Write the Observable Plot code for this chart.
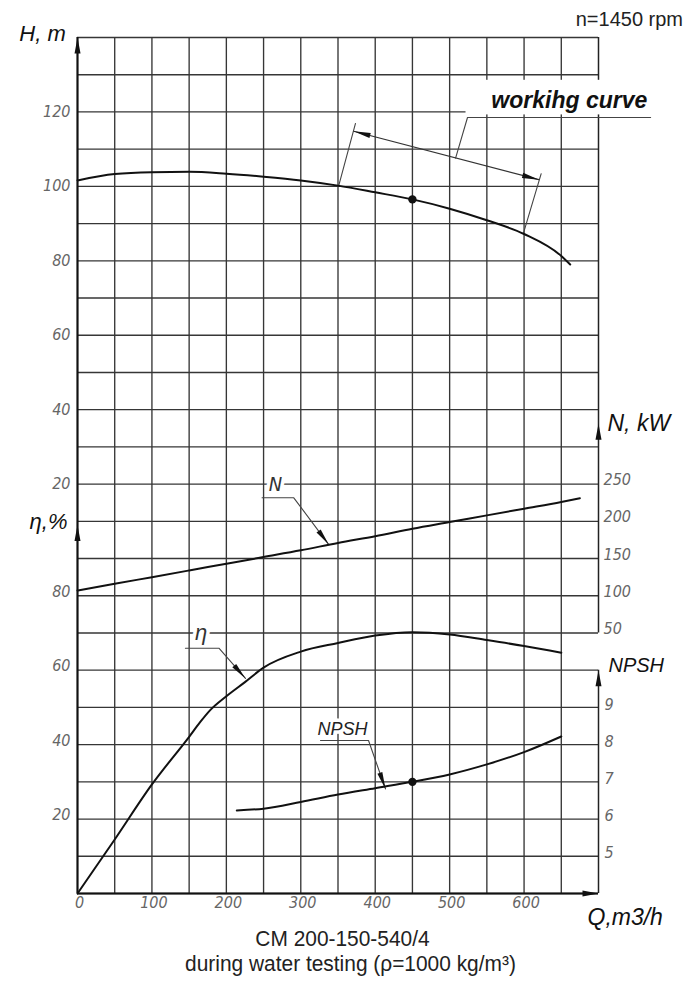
<!DOCTYPE html>
<html><head><meta charset="utf-8">
<script src="https://cdn.jsdelivr.net/npm/d3@7"></script>
<script src="https://cdn.jsdelivr.net/npm/@observablehq/plot@0.6"></script>
<style>
body{margin:0;background:#fff;font-family:"Liberation Sans",Arial,sans-serif;}
#wrap{position:relative;width:691px;height:1000px;background:#fff;}
#chart svg{display:block;}
#rpm{position:absolute;right:8px;top:9px;font-size:20px;line-height:20px;color:#222;}
#cap{position:absolute;top:926px;left:0;width:691px;text-align:center;font-size:22px;line-height:25px;color:#222;}
#cap div{transform:scaleX(0.95);}
#cap .l1{margin-left:-6px;}
#cap .l2{margin-left:10px;}
</style></head><body>
<div id="wrap"><div id="chart"></div><div id="rpm">n=1450 rpm</div>
<div id="cap"><div class="l1">CM 200-150-540/4</div><div class="l2">during water testing (ρ=1000 kg/m³)</div></div></div>
<script>
// ---- data ----
const flowH   = [0, 50, 100, 150, 200, 250, 300, 350, 400, 450, 500, 550, 600, 650, 662];
const headH   = [101.6, 103.3, 103.8, 103.9, 103.4, 102.6, 101.6, 100.2, 98.4, 96.5, 94.0, 90.9, 87.2, 81.3, 79.0];
const flowN   = [0, 50, 100, 150, 200, 250, 300, 350, 400, 450, 500, 550, 600, 650, 675];
const powerN  = [107, 116, 125, 134, 143, 152, 161, 171, 180, 190, 199, 208, 217, 226, 231];
const flowEta = [0, 50, 100, 150, 165, 178, 200, 225, 250, 300, 350, 400, 450, 500, 550, 600, 650];
const effEta  = [0, 14.5, 29.3, 42.1, 46.1, 49.2, 53.0, 56.8, 60.7, 65, 67.3, 69.3, 70.2, 69.6, 68.1, 66.5, 64.7];
const flowNpsh = [214, 250, 300, 350, 400, 450, 500, 550, 600, 650];
const npshVal  = [6.23, 6.28, 6.46, 6.66, 6.83, 7.0, 7.2, 7.47, 7.8, 8.22];
const dutyQ = 450, dutyH = 96.5, dutyNpsh = 7.0;

// tick labels
const qTicks = [0, 100, 200, 300, 400, 500, 600];
const hTicks = [20, 40, 60, 80, 100, 120];
const etaTicks = [20, 40, 60, 80];
const nTicks = [50, 100, 150, 200, 250];
const npshTicks = [5, 6, 7, 8, 9];
const gridQ = [0, 50, 100, 150, 200, 250, 300, 350, 400, 450, 500, 550, 600, 650];
const gridH = [-90, -80, -70, -60, -50, -40, -30, -20, -10, 0, 10, 20, 30, 40, 50, 60, 70, 80, 90, 100, 110, 120, 130, 140];

// annotations (in each curve's own units)
const workRange = [{q: 371, h: 114.8}, {q: 620, h: 101.8}];
const workExt = [[{q: 351, h: 100.2}, {q: 373.5, h: 116.9}], [{q: 599, h: 87.3}, {q: 623, h: 103.4}]];
const workLeader = [{q: 508, h: 107.6}, {q: 524, h: 118.5}, {q: 770, h: 118.5}];
const workLabel = {q: 556, h: 123, text: "workihg curve"};
const nLeader = [{q: 248, v: 231.6}, {q: 290.6, v: 231.6}, {q: 337.6, v: 168.8}];
const nLabel = {q: 266, v: 250, text: "N"};
const etaLeader = [{q: 145, v: 65.9}, {q: 190, v: 65.9}, {q: 225.7, v: 57.8}];
const etaLabel = {q: 166, v: 70, text: "η"};
const npshLeader = [{q: 326.5, v: 8.11}, {q: 391, v: 8.11}, {q: 413.8, v: 6.81}];
const npshLabel = {q: 356, v: 8.42, text: "NPSH"};

// ---- mapping of the secondary quantities onto the shared grid (H scale) ----
const yEta = v => v - 90;
const yN = v => v / 5 - 30;
const yNP = v => (v - 13) * 10;

const W = 691, HG = 930, ML = 77, MR = 93, MT = 37, MB = 37;
const XD = [0, 700], YD = [-90, 140];
const kx = (W - ML - MR) / (XD[1] - XD[0]);
const ky = (HG - MT - MB) / (YD[1] - YD[0]);
const angle = (a, b) => Math.atan2((b.x - a.x) * kx, (b.y - a.y) * ky) * 180 / Math.PI;

const H = flowH.map((q, i) => ({x: q, y: headH[i]}));
const N = flowN.map((q, i) => ({x: q, y: yN(powerN[i])}));
const E = flowEta.map((q, i) => ({x: q, y: yEta(effEta[i])}));
const P = flowNpsh.map((q, i) => ({x: q, y: yNP(npshVal[i])}));

const leaders = [
  ...workExt.map((seg, k) => seg.map(p => ({x: p.q, y: p.h, k: "ext" + k}))).flat(),
  ...workLeader.map(p => ({x: p.q, y: p.h, k: "wl"})),
  ...nLeader.map(p => ({x: p.q, y: yN(p.v), k: "n"})),
  ...etaLeader.map(p => ({x: p.q, y: yEta(p.v), k: "e"})),
  ...npshLeader.map(p => ({x: p.q, y: yNP(p.v), k: "p"}))
];
const dim = workRange.map(p => ({x: p.q, y: p.h}));
const tipOf = arr => {const a = arr[arr.length - 2], b = arr[arr.length - 1]; return {x: b.x, y: b.y, r: angle(a, b)};};
const leaderHeads = [
  tipOf(nLeader.map(p => ({x: p.q, y: yN(p.v)}))),
  tipOf(etaLeader.map(p => ({x: p.q, y: yEta(p.v)}))),
  tipOf(npshLeader.map(p => ({x: p.q, y: yNP(p.v)}))),
  {x: dim[0].x, y: dim[0].y, r: angle(dim[1], dim[0])},
  {x: dim[1].x, y: dim[1].y, r: angle(dim[0], dim[1])}
];
const axisHeads = [
  {x: 0, y: 140, r: 0},
  {x: 0, y: yEta(99), r: 0},
  {x: 700, y: yN(331), r: 0},
  {x: 700, y: yNP(10), r: 0},
  {x: 700, y: -90, r: 90}
];
const rightAxis = [{y1: yNP(4), y2: yNP(10)}, {y1: yN(50), y2: 140}];

const tickFont = "'DejaVu Sans Condensed','Liberation Sans Narrow','Liberation Sans',sans-serif";
const labFont = "'Liberation Sans',Arial,sans-serif";
const gridC = "#363636";
const tickOpts = {tickSize: 0, label: null, fontSize: 16, fontFamily: tickFont, fontWeight: 300, color: "#666"};

const chart = Plot.plot({
  width: W, height: HG, marginLeft: ML, marginRight: MR, marginTop: MT, marginBottom: MB,
  x: {domain: XD}, y: {domain: YD},
  style: {fontStyle: "italic", background: "#fff", overflow: "visible", fontFamily: labFont},
  marks: [
    Plot.ruleY(gridH, {stroke: gridC, strokeWidth: 1.35}),
    Plot.ruleX(gridQ.slice(1), {stroke: gridC, strokeWidth: 1.35}),
    Plot.ruleX(rightAxis, {x: 700, y1: "y1", y2: "y2", stroke: "#222", strokeWidth: 1.5}),
    Plot.ruleX([0], {stroke: "#111", strokeWidth: 2.2}),
    Plot.ruleY([-90], {stroke: "#111", strokeWidth: 2.2}),
    // label backgrounds
    Plot.rect([{x1: 522, x2: 705, y1: 119.2, y2: 128.5}], {x1: "x1", x2: "x2", y1: "y1", y2: "y2", fill: "#fff"}),
    Plot.text([workLabel], {x: "q", y: "h", text: "text", textAnchor: "start", fontSize: 23, fontWeight: "bold", fill: "#111"}),
    Plot.text([nLabel], {x: "q", y: d => yN(d.v), text: "text", fontSize: 20, fontFamily: tickFont, fontWeight: 300, fill: "#333", stroke: "#fff", strokeWidth: 7, paintOrder: "stroke"}),
    Plot.text([etaLabel], {x: "q", y: d => yEta(d.v), text: "text", fontSize: 22, fill: "#333", stroke: "#fff", strokeWidth: 7, paintOrder: "stroke"}),
    Plot.text([npshLabel], {x: "q", y: d => yNP(d.v), text: "text", fontSize: 18, fill: "#222", stroke: "#fff", strokeWidth: 7, paintOrder: "stroke"}),
    // leaders
    Plot.line(leaders, {x: "x", y: "y", z: "k", stroke: "#444", strokeWidth: 1.1}),
    Plot.line(dim, {x: "x", y: "y", stroke: "#333", strokeWidth: 1.2}),
    Plot.vector(leaderHeads, {x: "x", y: "y", rotate: "r", shape: "spike", anchor: "end", length: 17, r: 2.6, fill: "#111", stroke: "none"}),
    // curves
    Plot.line(H, {x: "x", y: "y", curve: "monotone-x", stroke: "#111", strokeWidth: 2}),
    Plot.line(N, {x: "x", y: "y", curve: "monotone-x", stroke: "#111", strokeWidth: 2}),
    Plot.line(E, {x: "x", y: "y", curve: "monotone-x", stroke: "#111", strokeWidth: 2}),
    Plot.line(P, {x: "x", y: "y", curve: "monotone-x", stroke: "#111", strokeWidth: 2}),
    Plot.dot([{x: dutyQ, y: dutyH}, {x: dutyQ, y: yNP(dutyNpsh)}], {x: "x", y: "y", r: 4.2, fill: "#111", stroke: "none"}),
    // axis arrows
    Plot.vector(axisHeads, {x: "x", y: "y", rotate: "r", shape: "spike", anchor: "end", length: 16, r: 3, fill: "#111", stroke: "none"}),
    // axes
    Plot.axisY({...tickOpts, anchor: "left", ticks: hTicks, tickPadding: 7}),
    Plot.axisY({...tickOpts, anchor: "left", ticks: etaTicks.map(yEta), tickFormat: d => Math.round(d + 90), tickPadding: 7, dy: -4}),
    Plot.axisY({...tickOpts, anchor: "right", ticks: nTicks.map(yN), tickFormat: d => Math.round((d + 30) * 5), tickPadding: 5, dy: -4}),
    Plot.axisY({...tickOpts, anchor: "right", ticks: npshTicks.map(yNP), tickFormat: d => Math.round(d / 10 + 13), tickPadding: 6, dy: -3}),
    Plot.axisX({...tickOpts, anchor: "bottom", ticks: qTicks, tickPadding: 3, dx: 2}),
    // axis titles
    Plot.text([{x: 0, y: 140, t: "H, m"}], {x: "x", y: "y", text: "t", dx: -35, dy: -4, fontSize: 22, fill: "#111"}),
    Plot.text([{x: 0, y: yEta(100), t: "η,%"}], {x: "x", y: "y", text: "t", dx: -29, dy: 1, fontSize: 22, fill: "#111"}),
    Plot.text([{x: 700, y: yN(331), t: "N, kW"}], {x: "x", y: "y", text: "t", textAnchor: "start", dx: 9, dy: 0, fontSize: 23, fill: "#111"}),
    Plot.text([{x: 700, y: yNP(10), t: "NPSH"}], {x: "x", y: "y", text: "t", textAnchor: "start", dx: 10, dy: -5, fontSize: 20, fill: "#111"}),
    Plot.text([{x: 700, y: -90, t: "Q,m3/h"}], {x: "x", y: "y", text: "t", textAnchor: "start", dx: -11, dy: 24, fontSize: 23, fill: "#111"})
  ]
});
document.getElementById("chart").append(chart);
</script>
</body></html>
